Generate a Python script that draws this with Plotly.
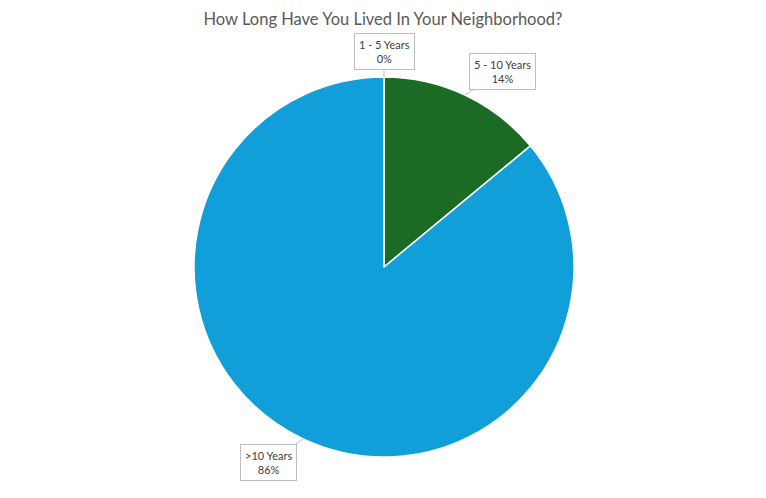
import math
import plotly.graph_objects as go

categories = ["1 - 5 Years", "5 - 10 Years", ">10 Years"]
values = [0, 14, 86]
colors = ["#ED7D31", "#1B6B25", "#109FD8"]

PAGE_W, PAGE_H = 766, 498
OFF = 8  # default page body margin
W, H = PAGE_W - 2 * OFF, PAGE_H - 2 * OFF
cx_px, cy_px, r_px = 384 - OFF, 267 - OFF, 190

dom_x = [(cx_px - r_px) / W, (cx_px + r_px) / W]
dom_y = [1 - (cy_px + r_px) / H, 1 - (cy_px - r_px) / H]

fig = go.Figure(go.Pie(
    labels=categories,
    values=values,
    sort=False,
    direction="clockwise",
    rotation=0,
    marker=dict(colors=colors, line=dict(color="white", width=1.5)),
    textinfo="none",
    hoverinfo="label+percent",
    domain=dict(x=dom_x, y=dom_y),
    showlegend=False,
))

# label offsets (pixels) for callout boxes
offsets = [(0, -25), (38, -24), (-35, 24)]
total = sum(values)
cum = 0
annotations = []
for cat, v, (ax, ay) in zip(categories, values, offsets):
    mid = (cum + v / 2) / total * 2 * math.pi
    cum += v
    px = cx_px + r_px * math.sin(mid)
    py = cy_px - r_px * math.cos(mid)
    pct = round(v / total * 100)
    annotations.append(dict(
        x=px / W, y=1 - py / H, xref="paper", yref="paper",
        text=f"{cat}<br>{pct}%",
        showarrow=True, arrowhead=0, arrowwidth=1, arrowcolor="#BFBFBF",
        ax=ax, ay=ay,
        bgcolor="white", bordercolor="#BFBFBF", borderwidth=1, borderpad=4,
        font=dict(family="Lato, Calibri, sans-serif", size=11, color="#404040"),
        align="center",
    ))

fig.update_layout(
    width=W, height=H,
    margin=dict(l=0, r=0, t=0, b=0),
    paper_bgcolor="white",
    plot_bgcolor="white",
    title=dict(
        text="How Long Have You Lived In Your Neighborhood?",
        x=(383 - OFF) / W, xanchor="center", y=1 - (19 - OFF) / H, yanchor="middle",
        font=dict(family="Lato, Calibri, sans-serif", size=16.5, color="#595959"),
    ),
    annotations=annotations,
)

fig.write_html("out.html")
